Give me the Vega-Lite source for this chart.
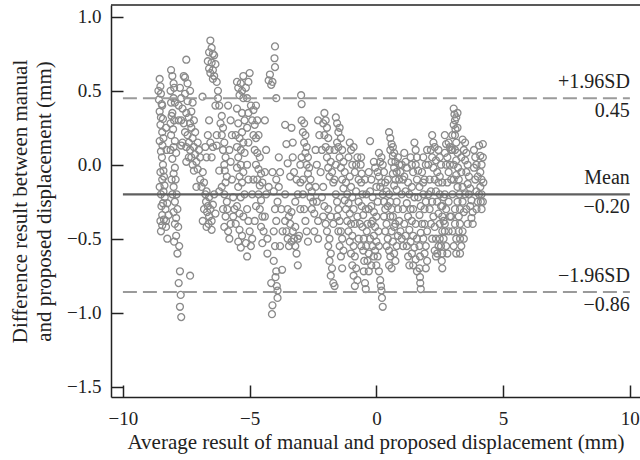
{
"$schema": "https://vega.github.io/schema/vega-lite/v6.json",
"width": 529, "height": 392,
"autosize": "none",
"padding": {"left": 111, "top": 5, "right": 0, "bottom": 63},
"background": "white",
"config": {"view": {"stroke": null}, "font": "Liberation Serif"},
"datasets": {
"pts": [
{"a":-8.55,"d":0.58},{"a":-8.52,"d":0.53},{"a":-8.5,"d":0.48},{"a":-8.47,"d":0.41},{"a":-8.45,"d":0.4},{"a":-8.5,"d":0.32},{"a":-8.42,"d":0.31},{"a":-8.45,"d":0.22},{"a":-8.4,"d":0.18},{"a":-8.44,"d":0.13},{"a":-8.46,"d":0.05},{"a":-8.42,"d":0.0},{"a":-8.4,"d":-0.04},{"a":-8.38,"d":-0.08},{"a":-8.45,"d":-0.1},{"a":-8.36,"d":-0.14},{"a":-8.4,"d":-0.18},{"a":-8.5,"d":-0.2},{"a":-8.35,"d":-0.22},{"a":-8.42,"d":-0.26},{"a":-8.32,"d":-0.3},{"a":-8.45,"d":-0.34},{"a":-8.38,"d":-0.37},{"a":-8.3,"d":-0.38},{"a":-8.45,"d":-0.41},{"a":-8.5,"d":-0.45},{"a":-8.25,"d":-0.5},{"a":-8.2,"d":-0.34},{"a":-8.25,"d":-0.26},
{"a":-8.6,"d":0.5},{"a":-8.58,"d":0.44},{"a":-8.55,"d":0.36},{"a":-8.52,"d":0.27},{"a":-8.55,"d":0.16},{"a":-8.5,"d":0.09},{"a":-8.52,"d":-0.05},{"a":-8.55,"d":-0.15},{"a":-8.48,"d":-0.28},{"a":-8.52,"d":-0.38},{"a":-8.3,"d":-0.42},{"a":-8.28,"d":0.1},{"a":-8.3,"d":0.25},
{"a":-8.1,"d":0.64},{"a":-8.05,"d":0.6},{"a":-8.0,"d":0.55},{"a":-8.12,"d":0.5},{"a":-8.0,"d":0.45},{"a":-7.95,"d":0.42},{"a":-8.05,"d":0.35},{"a":-8.08,"d":0.33},{"a":-7.98,"d":0.3},{"a":-8.02,"d":0.24},{"a":-8.1,"d":0.2},{"a":-7.95,"d":0.16},{"a":-8.0,"d":0.12},{"a":-7.9,"d":0.08},{"a":-8.05,"d":0.04},{"a":-7.95,"d":-0.02},{"a":-8.0,"d":-0.06},{"a":-7.92,"d":-0.1},{"a":-8.0,"d":-0.15},{"a":-7.88,"d":-0.2},{"a":-7.95,"d":-0.25},{"a":-7.85,"d":-0.3},{"a":-7.9,"d":-0.36},{"a":-7.82,"d":-0.42},{"a":-7.9,"d":-0.48},{"a":-7.78,"d":-0.55},{"a":-7.85,"d":-0.6},{"a":-7.75,"d":-0.72},{"a":-7.8,"d":-0.8},{"a":-7.72,"d":-0.88},{"a":-7.75,"d":-0.96},{"a":-7.7,"d":-1.03},{"a":-7.35,"d":-0.75},
{"a":-7.98,"d":0.52},{"a":-8.1,"d":0.42},{"a":-8.12,"d":0.28},{"a":-8.12,"d":0.1},{"a":-8.08,"d":-0.1},{"a":-8.05,"d":-0.2},{"a":-8.0,"d":-0.32},{"a":-7.95,"d":-0.4},{"a":-7.98,"d":-0.52},
{"a":-7.5,"d":0.71},{"a":-7.6,"d":0.6},{"a":-7.75,"d":0.52},{"a":-7.7,"d":0.45},{"a":-7.8,"d":0.4},{"a":-7.55,"d":0.48},{"a":-7.45,"d":0.43},{"a":-7.65,"d":0.38},{"a":-7.5,"d":0.35},{"a":-7.4,"d":0.32},{"a":-7.7,"d":0.3},{"a":-7.6,"d":0.28},{"a":-7.35,"d":0.28},{"a":-7.55,"d":0.22},{"a":-7.45,"d":0.2},{"a":-7.3,"d":0.25},{"a":-7.65,"d":0.15},{"a":-7.4,"d":0.15},{"a":-7.5,"d":0.12},{"a":-7.25,"d":0.18},{"a":-7.35,"d":0.1},{"a":-7.2,"d":0.12},{"a":-7.3,"d":0.05},{"a":-7.15,"d":0.07},{"a":-7.25,"d":0.0},{"a":-7.1,"d":0.02},{"a":-7.2,"d":-0.04},{"a":-7.05,"d":-0.03},{"a":-7.7,"d":0.13},{"a":-7.55,"d":0.59},{"a":-7.8,"d":0.3},{"a":-6.86,"d":0.46},
{"a":-7.45,"d":0.55},{"a":-7.35,"d":0.5},{"a":-7.25,"d":0.42},{"a":-7.3,"d":0.36},{"a":-7.2,"d":0.3},{"a":-7.15,"d":0.22},{"a":-7.0,"d":0.1},{"a":-7.05,"d":0.15},{"a":-6.95,"d":0.05},{"a":-7.4,"d":0.05},{"a":-7.5,"d":0.02},
{"a":-6.95,"d":-0.1},{"a":-6.9,"d":-0.15},{"a":-6.85,"d":-0.05},{"a":-6.8,"d":-0.12},{"a":-6.75,"d":-0.2},{"a":-6.7,"d":-0.18},{"a":-6.72,"d":-0.25},{"a":-6.65,"d":-0.28},{"a":-6.6,"d":-0.22},{"a":-6.68,"d":-0.32},{"a":-6.6,"d":-0.35},{"a":-6.55,"d":-0.3},{"a":-6.62,"d":-0.4},{"a":-6.5,"d":-0.38},{"a":-6.45,"d":-0.27},{"a":-6.5,"d":-0.44},{"a":-6.4,"d":-0.2},{"a":-6.35,"d":-0.33},{"a":-6.8,"d":-0.3},{"a":-7.1,"d":-0.15},
{"a":-6.7,"d":0.05},{"a":-6.75,"d":0.12},{"a":-6.65,"d":0.2},{"a":-6.6,"d":0.3},{"a":-6.55,"d":0.15},{"a":-6.85,"d":-0.38},{"a":-6.7,"d":-0.42},{"a":-6.45,"d":0.12},{"a":-6.5,"d":0.05},
{"a":-6.55,"d":0.84},{"a":-6.5,"d":0.79},{"a":-6.45,"d":0.75},{"a":-6.6,"d":0.76},{"a":-6.65,"d":0.7},{"a":-6.5,"d":0.69},{"a":-6.4,"d":0.74},{"a":-6.6,"d":0.65},{"a":-6.45,"d":0.64},{"a":-6.35,"d":0.68},{"a":-6.55,"d":0.62},{"a":-6.4,"d":0.6},{"a":-6.3,"d":0.56},{"a":-6.25,"d":0.5},{"a":-6.45,"d":0.58},{"a":-6.25,"d":0.45},{"a":-6.35,"d":0.4},{"a":-6.2,"d":0.4},
{"a":-6.1,"d":0.33},{"a":-6.15,"d":0.28},{"a":-6.05,"d":0.25},{"a":-6.1,"d":0.2},{"a":-6.0,"d":0.15},{"a":-6.05,"d":0.1},{"a":-5.95,"d":0.05},{"a":-6.0,"d":0.0},{"a":-5.98,"d":-0.04},{"a":-5.9,"d":-0.08},{"a":-5.95,"d":-0.12},{"a":-6.2,"d":-0.18},{"a":-6.0,"d":-0.2},{"a":-5.9,"d":-0.25},{"a":-6.05,"d":-0.3},{"a":-5.95,"d":-0.35},{"a":-5.88,"d":-0.3},{"a":-6.0,"d":-0.42},{"a":-5.85,"d":-0.45},{"a":-5.8,"d":-0.5},{"a":-6.3,"d":0.13},{"a":-6.3,"d":0.2},{"a":-6.2,"d":-0.04},{"a":-6.1,"d":-0.15},
{"a":-5.8,"d":0.1},{"a":-5.75,"d":0.02},{"a":-5.7,"d":-0.1},{"a":-5.65,"d":-0.35},{"a":-5.75,"d":-0.4},{"a":-5.7,"d":0.2},{"a":-5.75,"d":0.3},{"a":-5.85,"d":0.4},
{"a":-5.5,"d":0.56},{"a":-5.35,"d":0.55},{"a":-5.45,"d":0.52},{"a":-5.25,"d":0.6},{"a":-5.3,"d":0.5},{"a":-5.4,"d":0.47},{"a":-5.25,"d":0.45},{"a":-5.5,"d":0.38},{"a":-5.3,"d":0.35},{"a":-5.45,"d":0.28},{"a":-5.2,"d":0.3},{"a":-5.55,"d":0.2},{"a":-5.4,"d":0.18},{"a":-5.3,"d":0.22},{"a":-5.5,"d":0.12},{"a":-5.35,"d":0.1},{"a":-5.25,"d":0.15},{"a":-5.45,"d":0.05},{"a":-5.2,"d":0.08},{"a":-5.35,"d":0.0},{"a":-5.5,"d":-0.02},{"a":-5.4,"d":-0.08},{"a":-5.25,"d":-0.05},{"a":-5.3,"d":-0.12},{"a":-5.45,"d":-0.15},{"a":-5.2,"d":-0.2},{"a":-5.35,"d":-0.22},{"a":-5.5,"d":-0.28},{"a":-5.4,"d":-0.33},{"a":-5.25,"d":-0.35},{"a":-5.55,"d":-0.4},{"a":-5.4,"d":-0.44},{"a":-5.3,"d":-0.48},{"a":-5.45,"d":-0.52},{"a":-5.35,"d":-0.56},{"a":-5.15,"d":-0.53},{"a":-5.1,"d":-0.62},{"a":-5.0,"d":-0.45},{"a":-5.6,"d":-0.3},{"a":-5.65,"d":-0.22},{"a":-5.0,"d":0.62},{"a":-5.05,"d":0.56},{"a":-5.15,"d":0.52},
{"a":-5.1,"d":0.45},{"a":-5.05,"d":0.35},{"a":-5.1,"d":0.25},{"a":-5.05,"d":0.15},{"a":-5.1,"d":0.0},{"a":-5.05,"d":-0.1},{"a":-5.1,"d":-0.3},{"a":-5.05,"d":-0.38},{"a":-4.95,"d":-0.55},{"a":-4.9,"d":-0.5},
{"a":-4.95,"d":0.4},{"a":-4.85,"d":0.37},{"a":-4.75,"d":0.4},{"a":-4.9,"d":0.3},{"a":-4.8,"d":0.27},{"a":-4.7,"d":0.3},{"a":-4.85,"d":0.2},{"a":-4.75,"d":0.18},{"a":-4.65,"d":0.2},{"a":-4.8,"d":0.1},{"a":-4.7,"d":0.08},{"a":-4.6,"d":0.05},{"a":-4.75,"d":0.0},{"a":-4.65,"d":-0.03},{"a":-4.55,"d":-0.06},{"a":-4.7,"d":-0.1},{"a":-4.6,"d":-0.14},{"a":-4.5,"d":-0.12},{"a":-4.65,"d":-0.2},{"a":-4.55,"d":-0.24},{"a":-4.6,"d":-0.3},{"a":-4.5,"d":-0.35},{"a":-4.55,"d":-0.42},{"a":-4.45,"d":-0.45},{"a":-4.5,"d":-0.53},{"a":-4.85,"d":-0.1},{"a":-4.9,"d":-0.2},{"a":-4.75,"d":-0.28},{"a":-4.8,"d":-0.38},
{"a":-4.4,"d":0.3},{"a":-4.35,"d":0.1},{"a":-4.4,"d":-0.05},{"a":-4.35,"d":-0.2},{"a":-4.4,"d":-0.35},{"a":-4.3,"d":-0.5},{"a":-4.25,"d":-0.15},
{"a":-4.2,"d":0.61},{"a":-4.25,"d":0.57},{"a":-4.15,"d":0.54},{"a":-4.0,"d":0.8},{"a":-4.02,"d":0.72},{"a":-4.0,"d":0.66},{"a":-4.1,"d":0.56},{"a":-3.95,"d":0.45},
{"a":-4.3,"d":-0.6},{"a":-4.15,"d":-0.8},{"a":-4.1,"d":-0.95},{"a":-4.12,"d":-1.01},{"a":-3.95,"d":-0.72},{"a":-3.98,"d":-0.76},{"a":-3.93,"d":-0.82},{"a":-3.9,"d":-0.85},{"a":-3.9,"d":-0.9},{"a":-3.72,"d":-0.71},{"a":-4.05,"d":-0.65},{"a":-4.0,"d":-0.55},{"a":-4.05,"d":-0.45},{"a":-3.95,"d":-0.38},{"a":-4.0,"d":-0.3},{"a":-3.9,"d":-0.25},{"a":-4.05,"d":-0.18},{"a":-3.95,"d":-0.1},{"a":-4.1,"d":-0.05},{"a":-3.85,"d":-0.15},
{"a":-3.8,"d":-0.05},{"a":-3.75,"d":-0.3},{"a":-3.7,"d":-0.45},{"a":-3.8,"d":-0.55},{"a":-3.85,"d":0.05},
{"a":-3.6,"d":0.27},{"a":-3.55,"d":0.14},{"a":-3.5,"d":0.01},{"a":-3.35,"d":0.25},{"a":-3.3,"d":0.05},{"a":-3.4,"d":-0.08},{"a":-3.6,"d":-0.2},{"a":-3.5,"d":-0.3},{"a":-3.45,"d":-0.35},{"a":-3.4,"d":-0.4},{"a":-3.35,"d":-0.32},{"a":-3.3,"d":-0.45},{"a":-3.25,"d":-0.5},{"a":-3.35,"d":-0.52},{"a":-3.2,"d":-0.55},{"a":-3.15,"d":-0.6},{"a":-3.1,"d":-0.68},{"a":-3.2,"d":-0.42},{"a":-3.1,"d":-0.5},{"a":-3.05,"d":-0.48},{"a":-3.5,"d":-0.5},{"a":-3.45,"d":-0.55},{"a":-3.55,"d":-0.45},{"a":-3.0,"d":-0.3},{"a":-3.2,"d":-0.25},{"a":-3.1,"d":-0.2},{"a":-3.6,"d":-0.38},{"a":-2.97,"d":0.47},{"a":-2.95,"d":0.41},
{"a":-3.3,"d":0.15},{"a":-3.25,"d":-0.05},{"a":-3.15,"d":-0.1},{"a":-3.0,"d":-0.12},{"a":-2.9,"d":-0.2},{"a":-2.85,"d":-0.3},{"a":-2.8,"d":-0.38},{"a":-2.75,"d":-0.45},{"a":-2.7,"d":-0.52},
{"a":-2.95,"d":0.3},{"a":-2.85,"d":0.28},{"a":-2.9,"d":0.22},{"a":-2.8,"d":0.2},{"a":-2.85,"d":0.15},{"a":-2.75,"d":0.12},{"a":-2.8,"d":0.08},{"a":-2.7,"d":0.05},{"a":-2.75,"d":0.0},{"a":-2.65,"d":-0.02},{"a":-2.7,"d":-0.06},{"a":-2.6,"d":-0.1},{"a":-2.65,"d":-0.15},{"a":-2.55,"d":-0.18},{"a":-2.6,"d":-0.22},{"a":-2.5,"d":-0.25},{"a":-2.55,"d":-0.3},{"a":-2.45,"d":-0.33},{"a":-3.0,"d":0.0},{"a":-2.95,"d":0.05},{"a":-2.9,"d":-0.1},
{"a":-2.4,"d":0.1},{"a":-2.35,"d":0.0},{"a":-2.4,"d":-0.15},{"a":-2.35,"d":-0.25},{"a":-2.3,"d":-0.38},{"a":-2.45,"d":-0.45},{"a":-2.3,"d":-0.5},{"a":-2.25,"d":0.2},{"a":-2.3,"d":0.3},
{"a":-2.05,"d":0.35},{"a":-2.1,"d":0.28},{"a":-2.0,"d":0.3},{"a":-1.95,"d":0.25},{"a":-2.05,"d":0.2},{"a":-1.9,"d":0.18},{"a":-2.0,"d":0.12},{"a":-1.85,"d":0.1},{"a":-1.95,"d":0.05},{"a":-1.8,"d":0.02},{"a":-1.9,"d":-0.02},{"a":-1.75,"d":-0.05},{"a":-1.85,"d":-0.08},{"a":-1.7,"d":-0.12},{"a":-2.15,"d":0.1},{"a":-2.2,"d":-0.05},{"a":-2.1,"d":-0.15},{"a":-2.15,"d":-0.22},{"a":-2.05,"d":-0.28},{"a":-2.1,"d":-0.35},{"a":-2.0,"d":-0.4},{"a":-1.95,"d":-0.45},{"a":-1.85,"d":-0.5},{"a":-1.9,"d":-0.55},{"a":-1.8,"d":-0.6},{"a":-1.85,"d":-0.65},{"a":-1.75,"d":-0.7},{"a":-1.8,"d":-0.75},{"a":-1.7,"d":-0.8},{"a":-1.65,"d":-0.82},{"a":-1.9,"d":-0.3},{"a":-1.8,"d":-0.35},{"a":-1.7,"d":-0.4},
{"a":-1.65,"d":0.1},{"a":-1.6,"d":0.0},{"a":-1.65,"d":-0.1},{"a":-1.55,"d":-0.35},{"a":-1.5,"d":-0.45},{"a":-1.45,"d":-0.55},{"a":-1.4,"d":-0.62},{"a":-1.35,"d":-0.7},{"a":-1.55,"d":0.15},
{"a":-1.6,"d":0.32},{"a":-1.55,"d":0.28},{"a":-1.5,"d":0.22},{"a":-1.45,"d":0.25},{"a":-1.4,"d":0.18},{"a":-1.5,"d":0.12},{"a":-1.35,"d":0.1},{"a":-1.45,"d":0.05},{"a":-1.3,"d":0.02},{"a":-1.4,"d":-0.02},{"a":-1.25,"d":-0.05},{"a":-1.35,"d":-0.1},{"a":-1.2,"d":-0.12},{"a":-1.3,"d":-0.16},{"a":-1.15,"d":-0.2},{"a":-1.25,"d":-0.24},{"a":-1.1,"d":-0.26},{"a":-1.2,"d":-0.3},{"a":-1.05,"d":-0.33},{"a":-1.15,"d":-0.38},{"a":-1.0,"d":-0.4},{"a":-1.1,"d":-0.45},{"a":-0.95,"d":-0.48},{"a":-1.05,"d":-0.52},{"a":-0.9,"d":-0.55},{"a":-1.0,"d":-0.6},{"a":-0.85,"d":-0.62},{"a":-0.95,"d":-0.68},{"a":-0.8,"d":-0.7},{"a":-0.9,"d":-0.75},{"a":-0.75,"d":-0.78},{"a":-0.85,"d":-0.82},{"a":-1.5,"d":-0.3},{"a":-1.45,"d":-0.38},{"a":-1.4,"d":-0.45},{"a":-1.35,"d":-0.5},{"a":-1.3,"d":-0.58},{"a":-1.6,"d":-0.2},{"a":-1.55,"d":-0.25},{"a":-0.8,"d":0.0},{"a":-0.85,"d":-0.05},{"a":-0.75,"d":0.05},{"a":-0.9,"d":0.12},{"a":-0.7,"d":-0.1},{"a":-0.8,"d":-0.18},{"a":-0.7,"d":-0.25},{"a":-0.75,"d":-0.35},{"a":-0.65,"d":-0.4},{"a":-0.7,"d":-0.5},{"a":-0.6,"d":-0.55},
{"a":-1.05,"d":0.15},{"a":-1.0,"d":0.1},{"a":-1.1,"d":0.05},{"a":-0.95,"d":0.0},{"a":-1.05,"d":-0.08},{"a":-1.0,"d":-0.15},{"a":-0.95,"d":-0.22},{"a":-0.9,"d":-0.3},{"a":-0.85,"d":-0.4},
{"a":-0.6,"d":0.05},{"a":-0.62,"d":0.0},{"a":-0.58,"d":-0.06},{"a":-0.6,"d":-0.12},{"a":-0.55,"d":-0.2},{"a":-0.58,"d":-0.28},{"a":-0.52,"d":-0.34},{"a":-0.55,"d":-0.42},{"a":-0.5,"d":-0.5},{"a":-0.52,"d":-0.58},{"a":-0.48,"d":-0.65},{"a":-0.5,"d":-0.72},{"a":-0.45,"d":-0.8},{"a":-0.42,"d":-0.84},{"a":-0.25,"d":0.16},
{"a":-0.45,"d":-0.1},{"a":-0.4,"d":-0.2},{"a":-0.42,"d":-0.3},{"a":-0.38,"d":-0.45},{"a":-0.4,"d":-0.55},{"a":-0.35,"d":-0.65},{"a":-0.3,"d":-0.72},{"a":-0.2,"d":-0.4},{"a":-0.15,"d":-0.55},{"a":-0.1,"d":-0.62},{"a":-0.2,"d":-0.68},{"a":0.0,"d":-0.15},{"a":0.05,"d":-0.25},{"a":0.0,"d":-0.35},{"a":0.08,"d":-0.45},{"a":0.1,"d":-0.55},{"a":0.05,"d":-0.05},
{"a":-0.3,"d":-0.05},{"a":-0.2,"d":-0.1},{"a":-0.25,"d":-0.18},{"a":-0.15,"d":-0.22},{"a":-0.2,"d":-0.28},{"a":-0.1,"d":-0.32},{"a":-0.15,"d":-0.38},{"a":-0.05,"d":-0.42},{"a":-0.1,"d":-0.48},{"a":0.0,"d":-0.52},{"a":-0.05,"d":-0.58},{"a":0.05,"d":-0.62},{"a":0.0,"d":-0.68},{"a":0.1,"d":-0.72},{"a":-0.3,"d":-0.3},{"a":-0.35,"d":-0.4},{"a":-0.25,"d":-0.5},{"a":-0.3,"d":-0.6},{"a":0.15,"d":-0.78},{"a":0.2,"d":-0.85},{"a":0.22,"d":-0.9},{"a":0.25,"d":-0.96},{"a":0.18,"d":-0.82},
{"a":0.1,"d":-0.08},{"a":0.15,"d":-0.15},{"a":0.2,"d":-0.12},{"a":0.25,"d":-0.2},{"a":0.3,"d":-0.25},{"a":0.35,"d":-0.3},{"a":0.3,"d":-0.35},{"a":0.4,"d":-0.4},{"a":0.35,"d":-0.45},{"a":0.45,"d":-0.5},{"a":0.4,"d":-0.55},{"a":0.5,"d":-0.58},{"a":0.55,"d":-0.62},{"a":0.5,"d":-0.68},{"a":0.6,"d":-0.7},{"a":0.45,"d":-0.28},{"a":0.55,"d":-0.35},{"a":0.6,"d":-0.45},{"a":0.65,"d":-0.52},
{"a":0.3,"d":-0.05},{"a":0.35,"d":-0.12},{"a":0.4,"d":-0.18},{"a":0.45,"d":-0.1},{"a":0.5,"d":-0.2},{"a":0.55,"d":-0.25},{"a":0.6,"d":-0.3},{"a":0.65,"d":-0.35},{"a":0.7,"d":-0.42},{"a":0.7,"d":-0.6},{"a":0.75,"d":-0.65},{"a":0.8,"d":-0.55},{"a":0.85,"d":-0.48},{"a":0.65,"d":0.12},{"a":0.7,"d":0.08},{"a":0.75,"d":0.02},{"a":0.8,"d":-0.05},
{"a":0.5,"d":0.22},{"a":0.55,"d":0.18},{"a":0.6,"d":0.14},{"a":0.55,"d":0.1},{"a":0.65,"d":0.06},{"a":0.6,"d":0.02},{"a":0.7,"d":-0.02},{"a":0.65,"d":-0.06},{"a":0.75,"d":-0.1},{"a":0.7,"d":-0.14},{"a":0.8,"d":-0.17},{"a":0.9,"d":0.0},{"a":0.85,"d":0.05},{"a":0.95,"d":-0.05},{"a":0.9,"d":-0.1},{"a":0.8,"d":-0.25},{"a":0.85,"d":-0.3},{"a":0.9,"d":-0.38},{"a":0.95,"d":-0.45},{"a":1.0,"d":-0.5},{"a":1.05,"d":-0.55},{"a":0.75,"d":-0.4},{"a":0.2,"d":0.05},{"a":0.25,"d":0.0},{"a":0.15,"d":0.02},{"a":0.1,"d":0.08},{"a":-0.1,"d":0.02},{"a":-0.05,"d":-0.02},
{"a":1.0,"d":0.0},{"a":1.05,"d":-0.1},{"a":1.0,"d":-0.2},{"a":1.05,"d":-0.3},{"a":1.1,"d":-0.4},{"a":1.15,"d":-0.48},{"a":1.2,"d":-0.55},{"a":1.25,"d":-0.62},{"a":1.3,"d":-0.68},{"a":1.35,"d":0.05},{"a":1.4,"d":0.0},{"a":1.45,"d":-0.05},{"a":1.4,"d":-0.15},{"a":1.5,"d":-0.22},{"a":1.45,"d":-0.3},{"a":1.55,"d":-0.4},{"a":1.6,"d":-0.5},{"a":1.85,"d":0.05},{"a":1.8,"d":-0.05},{"a":1.85,"d":-0.12},{"a":1.95,"d":-0.25},{"a":1.9,"d":-0.4},{"a":1.85,"d":-0.5},{"a":1.9,"d":-0.6},{"a":1.95,"d":-0.7},
{"a":1.1,"d":0.08},{"a":1.15,"d":0.02},{"a":1.2,"d":-0.02},{"a":1.1,"d":-0.08},{"a":1.25,"d":-0.12},{"a":1.15,"d":-0.18},{"a":1.3,"d":-0.2},{"a":1.2,"d":-0.26},{"a":1.35,"d":-0.3},{"a":1.25,"d":-0.35},{"a":1.4,"d":-0.38},{"a":1.3,"d":-0.44},{"a":1.45,"d":-0.48},{"a":1.35,"d":-0.52},{"a":1.5,"d":-0.56},{"a":1.4,"d":-0.6},{"a":1.55,"d":-0.64},{"a":1.45,"d":-0.68},{"a":1.6,"d":-0.72},{"a":1.5,"d":0.15},{"a":1.55,"d":0.1},{"a":1.6,"d":0.05},{"a":1.55,"d":0.0},{"a":1.65,"d":-0.04},{"a":1.6,"d":-0.1},{"a":1.7,"d":-0.15},{"a":1.65,"d":-0.22},{"a":1.75,"d":-0.28},{"a":1.7,"d":-0.34},{"a":1.8,"d":-0.4},{"a":1.75,"d":-0.46},{"a":1.7,"d":-0.55},{"a":1.72,"d":-0.62},{"a":1.7,"d":-0.7},{"a":1.72,"d":-0.76},{"a":1.73,"d":-0.8},{"a":1.75,"d":-0.84},{"a":1.85,"d":-0.2},{"a":1.9,"d":-0.1},{"a":1.95,"d":0.0},{"a":1.9,"d":-0.3},{"a":2.0,"d":-0.45},{"a":1.95,"d":-0.55},{"a":2.0,"d":-0.65},
{"a":2.0,"d":0.1},{"a":2.05,"d":0.0},{"a":2.1,"d":-0.1},{"a":2.15,"d":-0.18},{"a":2.2,"d":-0.25},{"a":2.25,"d":-0.35},{"a":2.3,"d":-0.42},{"a":2.35,"d":-0.5},{"a":2.3,"d":-0.58},{"a":2.35,"d":-0.62},{"a":2.45,"d":0.1},{"a":2.5,"d":0.05},{"a":2.55,"d":0.0},{"a":2.5,"d":-0.08},{"a":2.6,"d":-0.12},{"a":2.65,"d":-0.22},{"a":2.6,"d":-0.28},{"a":2.65,"d":-0.38},{"a":2.7,"d":-0.45},{"a":2.75,"d":-0.55},{"a":2.8,"d":-0.6},{"a":2.85,"d":0.15},{"a":2.9,"d":0.12},{"a":2.85,"d":-0.25},{"a":2.9,"d":-0.35},{"a":2.85,"d":-0.45},
{"a":2.2,"d":0.2},{"a":2.25,"d":0.15},{"a":2.15,"d":0.1},{"a":2.3,"d":0.12},{"a":2.2,"d":0.05},{"a":2.35,"d":0.03},{"a":2.25,"d":-0.02},{"a":2.4,"d":-0.05},{"a":2.3,"d":-0.1},{"a":2.45,"d":-0.12},{"a":2.35,"d":-0.18},{"a":2.5,"d":-0.2},{"a":2.4,"d":-0.25},{"a":2.55,"d":-0.28},{"a":2.45,"d":-0.33},{"a":2.6,"d":-0.35},{"a":2.5,"d":-0.4},{"a":2.6,"d":-0.45},{"a":2.5,"d":-0.5},{"a":2.55,"d":-0.55},{"a":2.6,"d":-0.6},{"a":2.58,"d":-0.65},{"a":2.6,"d":-0.7},{"a":2.4,"d":-0.6},{"a":2.45,"d":-0.55},{"a":2.7,"d":0.2},{"a":2.75,"d":0.14},{"a":2.7,"d":0.08},{"a":2.8,"d":0.05},{"a":2.75,"d":0.0},{"a":2.85,"d":-0.05},{"a":2.8,"d":-0.12},{"a":2.7,"d":-0.2},{"a":2.75,"d":-0.3},{"a":2.7,"d":-0.4},{"a":2.65,"d":-0.5},{"a":2.1,"d":-0.3},{"a":2.15,"d":-0.4},{"a":2.2,"d":-0.5},{"a":2.05,"d":-0.2},
{"a":3.05,"d":0.38},{"a":3.08,"d":0.34},{"a":3.1,"d":0.3},{"a":3.05,"d":0.27},{"a":3.12,"d":0.24},{"a":3.1,"d":0.2},{"a":3.15,"d":0.15},{"a":3.1,"d":0.1},{"a":3.2,"d":0.08},{"a":3.15,"d":0.03},{"a":3.22,"d":-0.02},{"a":3.15,"d":-0.07},{"a":3.25,"d":-0.1},{"a":3.2,"d":-0.15},{"a":3.28,"d":-0.2},{"a":3.2,"d":-0.25},{"a":3.3,"d":-0.3},{"a":3.25,"d":-0.35},{"a":3.3,"d":-0.4},{"a":3.25,"d":-0.45},{"a":3.3,"d":-0.5},{"a":3.35,"d":-0.55},{"a":3.3,"d":-0.6},{"a":2.95,"d":0.1},{"a":2.9,"d":0.0},{"a":2.95,"d":-0.1},{"a":3.0,"d":-0.2},{"a":2.95,"d":-0.35},{"a":3.0,"d":-0.45},{"a":3.05,"d":-0.55},
{"a":3.0,"d":0.2},{"a":3.0,"d":0.1},{"a":3.05,"d":0.0},{"a":3.05,"d":-0.1},{"a":3.1,"d":-0.3},{"a":3.1,"d":-0.4},{"a":3.15,"d":-0.5},{"a":3.15,"d":-0.6},{"a":3.35,"d":0.05},{"a":3.35,"d":-0.05},{"a":3.4,"d":-0.15},{"a":3.4,"d":-0.25},{"a":3.45,"d":-0.32},{"a":3.4,"d":-0.45},{"a":3.45,"d":-0.5},{"a":3.2,"d":0.35},{"a":3.15,"d":0.32},{"a":3.2,"d":0.25},
{"a":3.4,"d":0.17},{"a":3.5,"d":0.15},{"a":3.45,"d":0.1},{"a":3.55,"d":0.08},{"a":3.5,"d":0.03},{"a":3.6,"d":0.0},{"a":3.55,"d":-0.05},{"a":3.65,"d":-0.08},{"a":3.6,"d":-0.13},{"a":3.7,"d":-0.16},{"a":3.65,"d":-0.2},{"a":3.75,"d":-0.24},{"a":3.7,"d":-0.28},{"a":3.8,"d":-0.32},{"a":3.75,"d":-0.36},{"a":3.8,"d":-0.4},{"a":3.85,"d":0.1},{"a":3.9,"d":0.05},{"a":3.85,"d":-0.02},{"a":3.9,"d":-0.1},
{"a":3.5,"d":-0.2},{"a":3.55,"d":-0.3},{"a":3.6,"d":-0.4},{"a":3.95,"d":0.0},{"a":4.0,"d":-0.08},{"a":3.95,"d":-0.18},{"a":4.0,"d":-0.25},{"a":3.95,"d":-0.3},{"a":4.05,"d":-0.2},{"a":4.2,"d":0.05},{"a":4.22,"d":-0.12},{"a":4.2,"d":-0.25},
{"a":4.05,"d":0.13},{"a":4.1,"d":0.06},{"a":4.15,"d":0.0},{"a":4.1,"d":-0.05},{"a":4.15,"d":-0.1},{"a":4.1,"d":-0.15},{"a":4.15,"d":-0.2},{"a":4.12,"d":-0.25},{"a":4.15,"d":-0.3},{"a":4.2,"d":0.14}
],
"lines": [
{"y":0.45,"x1":-10,"x2":10,"kind":"sd","top":"+1.96SD","bottom":"0.45"},
{"y":-0.2,"x1":-10,"x2":10,"kind":"mean","top":"Mean","bottom":"−0.20"},
{"y":-0.86,"x1":-10,"x2":10,"kind":"sd","top":"−1.96SD","bottom":"−0.86"}
]
},
"encoding": {},
"layer": [
{
"data": {"name": "pts"},
"mark": {"type": "point", "shape": "circle", "filled": false, "size": 48, "stroke": "#8a8a8a", "strokeWidth": 1.3, "opacity": 1},
"encoding": {
"x": {"field": "a", "type": "quantitative",
"scale": {"domain": [-10.47, 10.4], "nice": false, "zero": false},
"axis": {"title": "Average result of manual and proposed displacement (mm)", "values": [-10, -5, 0, 5, 10], "format": "d",
"tickSize": -12, "tickColor": "#222", "domainColor": "#222", "domainWidth": 1.5, "tickWidth": 1.5, "grid": false,
"labelFont": "Liberation Serif", "labelFontSize": 19, "labelColor": "#222", "labelPadding": 24,
"titleFont": "Liberation Serif", "titleFontSize": 21, "titleFontWeight": "normal", "titleColor": "#222", "titlePadding": 3}},
"y": {"field": "d", "type": "quantitative",
"scale": {"domain": [-1.57, 1.08], "nice": false, "zero": false},
"axis": {"title": ["Difference result between manual", "and proposed displacement (mm)"], "values": [-1.5, -1.0, -0.5, 0, 0.5, 1.0], "format": ".1f",
"tickSize": -12, "tickColor": "#222", "domainColor": "#222", "domainWidth": 1.5, "tickWidth": 1.5, "grid": false,
"labelFont": "Liberation Serif", "labelFontSize": 19, "labelColor": "#222", "labelPadding": 22,
"titleFont": "Liberation Serif", "titleFontSize": 21, "titleFontWeight": "normal", "titleColor": "#222", "titlePadding": 12, "titleLineHeight": 24}}
}
},
{
"data": {"name": "lines"},
"transform": [{"filter": "datum.kind == 'sd'"}],
"mark": {"type": "rule", "stroke": "#9a9a9a", "strokeWidth": 2, "strokeDash": [14, 6]},
"encoding": {"x": {"field": "x1", "type": "quantitative"}, "x2": {"field": "x2"}, "y": {"field": "y", "type": "quantitative"}}
},
{
"data": {"name": "lines"},
"transform": [{"filter": "datum.kind == 'mean'"}],
"mark": {"type": "rule", "stroke": "#5f5f5f", "strokeWidth": 2.4},
"encoding": {"x": {"field": "x1", "type": "quantitative"}, "x2": {"field": "x2"}, "y": {"field": "y", "type": "quantitative"}}
},
{
"data": {"name": "lines"},
"mark": {"type": "text", "align": "right", "baseline": "alphabetic", "dy": -10, "font": "Liberation Serif", "fontSize": 20, "color": "#222"},
"encoding": {"x": {"field": "x2", "type": "quantitative"}, "y": {"field": "y", "type": "quantitative"}, "text": {"field": "top"}}
},
{
"data": {"name": "lines"},
"mark": {"type": "text", "align": "right", "baseline": "top", "dy": 3, "font": "Liberation Serif", "fontSize": 20, "color": "#222"},
"encoding": {"x": {"field": "x2", "type": "quantitative"}, "y": {"field": "y", "type": "quantitative"}, "text": {"field": "bottom"}}
},
{
"data": {"values": [{"x1": -10.47, "x2": 10.4, "y": 1.08}]},
"mark": {"type": "rule", "stroke": "#222", "strokeWidth": 1.5},
"encoding": {"x": {"field": "x1", "type": "quantitative"}, "x2": {"field": "x2"}, "y": {"field": "y", "type": "quantitative"}}
}
]
}
